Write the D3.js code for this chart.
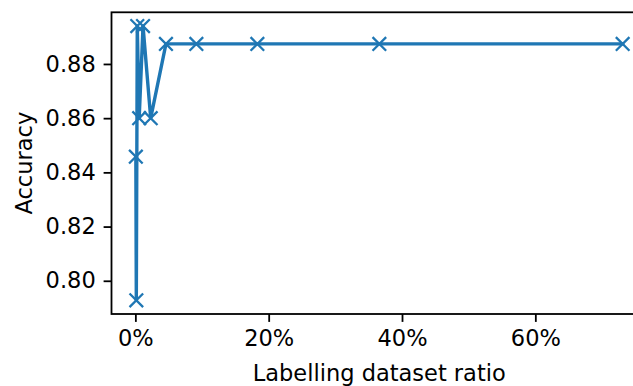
<!DOCTYPE html>
<html>
<head>
<meta charset="utf-8">
<script src="https://cdn.jsdelivr.net/npm/d3@7"></script>
<style>
  html, body { margin: 0; padding: 0; background: #fff; overflow: hidden; }
  svg { display: block; }
  text { font-family: "DejaVu Sans", sans-serif; fill: #000; }
</style>
</head>
<body>
<svg id="chart" width="633" height="386"></svg>
<script>
// Data (labelling dataset ratio in %, accuracy)
const ratios = [0.072, 0.144, 0.287, 0.574, 1.15, 2.30, 4.59, 9.15, 18.3, 36.6, 73.1];
const accuracy = [0.8458, 0.7928, 0.8940, 0.8600, 0.8940, 0.8600, 0.8874, 0.8874, 0.8874, 0.8874, 0.8874];
const xTicks = [0, 20, 40, 60];
const yTicks = [0.80, 0.82, 0.84, 0.86, 0.88];
const xLabel = "Labelling dataset ratio";
const yLabel = "Accuracy";

(function () {
const color = "#1f77b4";
const fontSize = 22.5;
const pLeft = 111.5, pRight = 647, pTop = 12.3, pBottom = 314;

const svg = d3.select("#chart");

function padded(ext) {
  const m = (ext[1] - ext[0]) * 0.05;
  return [ext[0] - m, ext[1] + m];
}

const x = d3.scaleLinear().domain(padded(d3.extent(ratios))).range([pLeft, pRight]);
const y = d3.scaleLinear().domain(padded(d3.extent(accuracy))).range([pBottom, pTop]);

const data = ratios.map((r, i) => ({ r, a: accuracy[i] }));

svg.append("defs").append("clipPath").attr("id", "clip")
  .append("rect").attr("x", pLeft).attr("y", pTop).attr("width", pRight - pLeft).attr("height", pBottom - pTop);

const plot = svg.append("g").attr("clip-path", "url(#clip)");

plot.append("path")
  .datum(data)
  .attr("fill", "none")
  .attr("stroke", color)
  .attr("stroke-width", 3.4)
  .attr("stroke-linejoin", "round")
  .attr("stroke-linecap", "square")
  .attr("d", d3.line().x(d => x(d.r)).y(d => y(d.a)));

const ms = 6.8;
const markers = svg.append("g");
data.forEach(d => {
  const cx = x(d.r), cy = y(d.a);
  markers.append("path")
    .attr("d", `M${cx - ms},${cy - ms}L${cx + ms},${cy + ms}M${cx - ms},${cy + ms}L${cx + ms},${cy - ms}`)
    .attr("stroke", color)
    .attr("stroke-width", 2.3)
    .attr("fill", "none");
});

const tickLen = 7.9, tickPad = 7.9;
const xAxis = d3.axisBottom(x).tickValues(xTicks).tickFormat(d => d + "%")
  .tickSizeInner(tickLen).tickSizeOuter(0).tickPadding(tickPad);
const yAxis = d3.axisLeft(y).tickValues(yTicks).tickFormat(d3.format(".2f"))
  .tickSizeInner(tickLen).tickSizeOuter(0).tickPadding(tickPad);

const gx = svg.append("g").attr("transform", `translate(0,${pBottom})`).call(xAxis);
const gy = svg.append("g").attr("transform", `translate(${pLeft},0)`).call(yAxis);

[gx, gy].forEach(g => {
  g.select(".domain").remove();
  g.selectAll(".tick line").attr("stroke", "#000").attr("stroke-width", 1.8);
  g.selectAll(".tick text").attr("font-size", fontSize).attr("font-family", "DejaVu Sans").attr("fill", "#000");
});

svg.append("rect")
  .attr("x", pLeft).attr("y", pTop)
  .attr("width", pRight - pLeft).attr("height", pBottom - pTop)
  .attr("fill", "none").attr("stroke", "#000").attr("stroke-width", 1.8);

svg.append("text")
  .attr("x", (pLeft + pRight) / 2).attr("y", 381)
  .attr("text-anchor", "middle")
  .attr("font-size", fontSize)
  .text(xLabel);

svg.append("text")
  .attr("transform", `translate(32,${(pTop + pBottom) / 2}) rotate(-90)`)
  .attr("text-anchor", "middle")
  .attr("font-size", fontSize)
  .text(yLabel);
})();
</script>
</body>
</html>
